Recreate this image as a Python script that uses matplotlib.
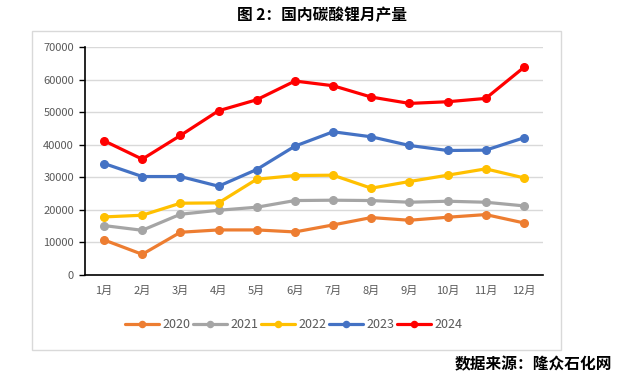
import matplotlib
matplotlib.use("Agg")
import matplotlib.pyplot as plt
from matplotlib.patches import Rectangle

plt.rcParams['font.family'] = ['Noto Sans CJK SC', 'DejaVu Sans']

months = ['1月', '2月', '3月', '4月', '5月', '6月', '7月', '8月', '9月', '10月', '11月', '12月']
y2020 = [10760, 6350, 13120, 13840, 13840, 13220, 15370, 17630, 16810, 17730, 18550, 15990]
y2021 = [15170, 13730, 18650, 19880, 20810, 22860, 22960, 22860, 22340, 22650, 22340, 21220]
y2022 = [17830, 18350, 22040, 22140, 29410, 30540, 30640, 26650, 28700, 30640, 32590, 29820]
y2023 = [34230, 30230, 30230, 27260, 32390, 39560, 43970, 42430, 39770, 38230, 38330, 42120]
y2024 = [41200, 35560, 42840, 50430, 53810, 59550, 58110, 54630, 52680, 53190, 54220, 63750]
series = [('2020', y2020, '#ED7D31'), ('2021', y2021, '#A5A5A5'), ('2022', y2022, '#FFC000'),
          ('2023', y2023, '#4472C4'), ('2024', y2024, '#FF0000')]
yticks = [0, 10000, 20000, 30000, 40000, 50000, 60000, 70000]

W, H = 619, 379
fig = plt.figure(figsize=(W/100, H/100), dpi=100)

# outer chart frame
fig.patches.append(Rectangle((32/W, 1-350/H), (561-32)/W, (350-31)/H, transform=fig.transFigure,
                             fill=False, edgecolor='#D9D9D9', linewidth=1))

ax = fig.add_axes([85/W, 1-275/H, (543-85)/W, (275-47)/H])
x = list(range(len(months)))
for name, vals, c in series:
    ax.plot(x, vals, color=c, linewidth=2.3, marker='o', markersize=5.5, label=name, solid_capstyle='round')

ax.set_xlim(-0.5, 11.5)
ax.set_ylim(0, 70000)
ax.set_yticks(yticks)
ax.set_yticklabels([str(v) for v in yticks])
ax.set_xticks(x)
ax.set_xticklabels(months)
ax.grid(axis='y', color='#D9D9D9', linewidth=1)
ax.set_axisbelow(True)
for s in ['top', 'right']:
    ax.spines[s].set_visible(False)
ax.spines['left'].set_color('black')
ax.spines['bottom'].set_color('black')
ax.spines['left'].set_linewidth(1.2)
ax.spines['bottom'].set_linewidth(1.2)
ax.tick_params(axis='y', direction='out', length=4, width=1, color='black', labelsize=8, labelcolor='#595959', pad=4)
ax.tick_params(axis='x', length=0, labelsize=8, labelcolor='#595959', pad=8)

leg = fig.legend(loc='center', bbox_to_anchor=(294/W, 1-325/H), ncol=5, frameon=False,
                 fontsize=9, handlelength=2.7, handletextpad=0.3, columnspacing=0.2, labelcolor='#595959',
                 markerscale=0.8)

fig.text(322/W, 1-15/H, '图 2：国内碳酸锂月产量', ha='center', va='center', fontsize=11.3, fontweight='bold')
fig.text(612/W, 1-364/H, '数据来源：隆众石化网', ha='right', va='center', fontsize=11.3, fontweight='bold')

fig.savefig('out.png', dpi=100)
